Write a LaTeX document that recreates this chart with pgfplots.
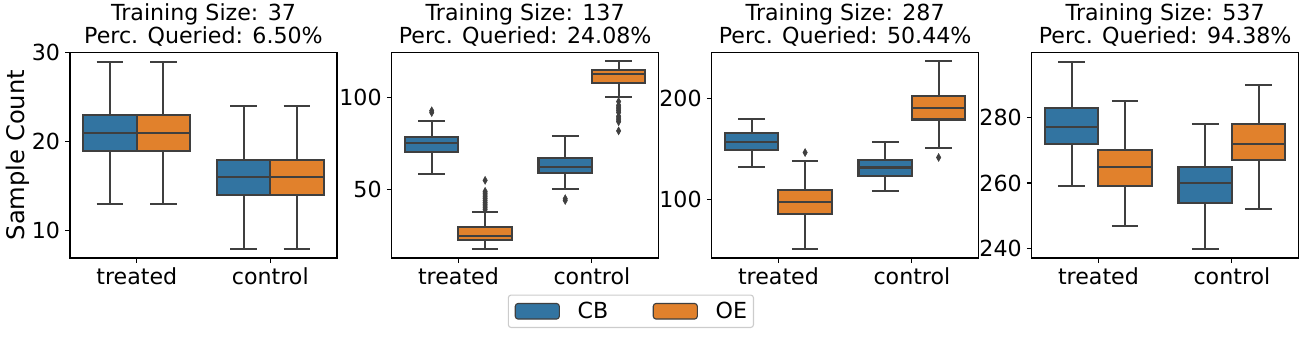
\documentclass[border=0pt]{standalone}
\usepackage{pgfplots}
\pgfplotsset{compat=1.18}
\usepackage{fontspec}
\setmainfont{DejaVu Sans}
\definecolor{cbblue}{HTML}{3274A1}
\definecolor{oeorange}{HTML}{E1812C}
\definecolor{lgray}{HTML}{3F3F3F}
\pgfplotsset{
  panel/.style={
    width=192.24bp, height=148.1bp, scale only axis,
    anchor=south west,
    xmin=-0.5, xmax=1.5, xtick={0,1}, xticklabels={treated,control},
    xtick pos=lower, ytick pos=left, tick align=outside,
    major tick length=3.5bp,
    every tick/.style={black, line width=0.8bp},
    axis line style={black, line width=0.8bp},
    tick label style={font=\fontsize{16}{19}\selectfont},
    xticklabel style={inner ysep=3.5bp},
    yticklabel style={inner xsep=3.5bp},
    /pgf/number format/assume math mode=true,
    title style={font={\fontsize{16}{15.3}\selectfont}, align=center,
      at={(0.5,1)}, anchor=south, inner sep=0pt, yshift=-1.8bp},
    every axis y label/.style={at={(axis description cs:-0.195,0.5)}, rotate=90, anchor=center,
      font=\fontsize{17.5}{21}\selectfont},
  },
  bxline/.style={forget plot, draw=lgray, line width=1.5bp},
  outl/.style={forget plot, only marks, mark=diamond*, mark size=2.8bp,
    mark options={fill=lgray, draw=lgray, line width=0.4bp, xscale=0.75}},
}
% #1 centre, #2 fill colour, #3 lower whisker, #4 lower quartile, #5 median, #6 upper quartile, #7 upper whisker
\newcommand{\bxp}[7]{%
  \pgfmathsetmacro{\bL}{#1-0.2}\pgfmathsetmacro{\bR}{#1+0.2}%
  \pgfmathsetmacro{\cL}{#1-0.1}\pgfmathsetmacro{\cR}{#1+0.1}%
  \edef\bxtemp{%
    \noexpand\addplot[bxline] coordinates {(#1,#3) (#1,#4)};
    \noexpand\addplot[bxline] coordinates {(#1,#6) (#1,#7)};
    \noexpand\addplot[bxline] coordinates {(\cL,#3) (\cR,#3)};
    \noexpand\addplot[bxline] coordinates {(\cL,#7) (\cR,#7)};
    \noexpand\addplot[bxline, fill=#2] coordinates {(\bL,#4) (\bR,#4) (\bR,#6) (\bL,#6)} -- cycle;
    \noexpand\addplot[bxline] coordinates {(\bL,#5) (\bR,#5)};
  }\bxtemp
}
\begin{document}
\begin{tikzpicture}
\useasboundingbox (0,0) rectangle (939.6bp,242.64bp);
% Panel 1
\begin{axis}[panel, at={(50.4bp,56.88bp)}, ymin=6.95, ymax=30.05, ytick={10,20,30},
  title={Training Size: 37\\Perc. Queried: 6.50\%}, ylabel={Sample Count}]
\bxp{-0.2}{cbblue}{13}{19}{21}{23}{29}
\bxp{0.2}{oeorange}{13}{19}{21}{23}{29}
\bxp{0.8}{cbblue}{8}{14}{16}{18}{24}
\bxp{1.2}{oeorange}{8}{14}{16}{18}{24}
\end{axis}
% Panel 2
\begin{axis}[panel, at={(282.0bp,56.88bp)}, ymin=12.6, ymax=124.9, ytick={50,100},
  title={Training Size: 137\\Perc. Queried: 24.08\%},
  legend columns=2,
  legend style={at={(0.896,-0.259)}, anchor=center, draw=black!20, rounded corners=2bp,
    line width=0.8bp, fill=white, font=\fontsize{16}{19}\selectfont,
    inner xsep=4.6bp, inner ysep=5bp,
    /tikz/every odd column/.append style={column sep=12.8bp},
    /tikz/every even column/.append style={column sep=32bp},
    nodes={inner sep=0pt}}]
\bxp{-0.2}{cbblue}{58.5}{70.4}{75.5}{78.7}{87.5}
\bxp{0.2}{oeorange}{17.6}{22.4}{24.7}{29.6}{37.8}
\bxp{0.8}{cbblue}{50.2}{59.1}{62.4}{67.3}{79.1}
\bxp{1.2}{oeorange}{100.4}{108.2}{112.9}{115.1}{120}
\addplot[outl] coordinates {(-0.2,93) (-0.2,92)};
\addplot[outl] coordinates {(0.2,55) (0.2,49) (0.2,48) (0.2,47) (0.2,46) (0.2,45) (0.2,44) (0.2,43) (0.2,42) (0.2,41) (0.2,40) (0.2,39)};
\addplot[outl] coordinates {(0.8,45) (0.8,44)};
\addplot[outl] coordinates {(1.2,98) (1.2,96) (1.2,95) (1.2,94) (1.2,93) (1.2,92) (1.2,90) (1.2,89) (1.2,88) (1.2,87) (1.2,82)};
\addlegendimage{legend image code/.code={\draw[draw=lgray, fill=cbblue, line width=0.8bp] (0bp,-5.6bp) rectangle (31.7bp,5.6bp);}}
\addlegendentry{CB}
\addlegendimage{legend image code/.code={\draw[draw=lgray, fill=oeorange, line width=0.8bp] (0bp,-5.6bp) rectangle (31.7bp,5.6bp);}}
\addlegendentry{OE}
\end{axis}
% Panel 3
\begin{axis}[panel, at={(512.4bp,56.88bp)}, ymin=42, ymax=245.8, ytick={100,200},
  title={Training Size: 287\\Perc. Queried: 50.44\%}]
\bxp{-0.2}{cbblue}{132.3}{148.8}{157.1}{166}{179.9}
\bxp{0.2}{oeorange}{51.2}{85.8}{97.7}{109.2}{138.3}
\bxp{0.8}{cbblue}{108.6}{123.4}{131.7}{138.9}{157.1}
\bxp{1.2}{oeorange}{151.2}{179.2}{190.8}{202.3}{237}
\addplot[outl] coordinates {(0.2,146.5)};
\addplot[outl] coordinates {(1.2,141.6)};
\end{axis}
% Panel 4
\begin{axis}[panel, at={(742.8bp,56.88bp)}, ymin=237.15, ymax=299.85, ytick={240,260,280},
  title={Training Size: 537\\Perc. Queried: 94.38\%}]
\bxp{-0.2}{cbblue}{259}{272}{277}{283}{297}
\bxp{0.2}{oeorange}{247}{259}{265}{270}{285}
\bxp{0.8}{cbblue}{240}{254}{260}{265}{278}
\bxp{1.2}{oeorange}{252}{267}{272}{278}{290}
\end{axis}
\end{tikzpicture}
\end{document}
